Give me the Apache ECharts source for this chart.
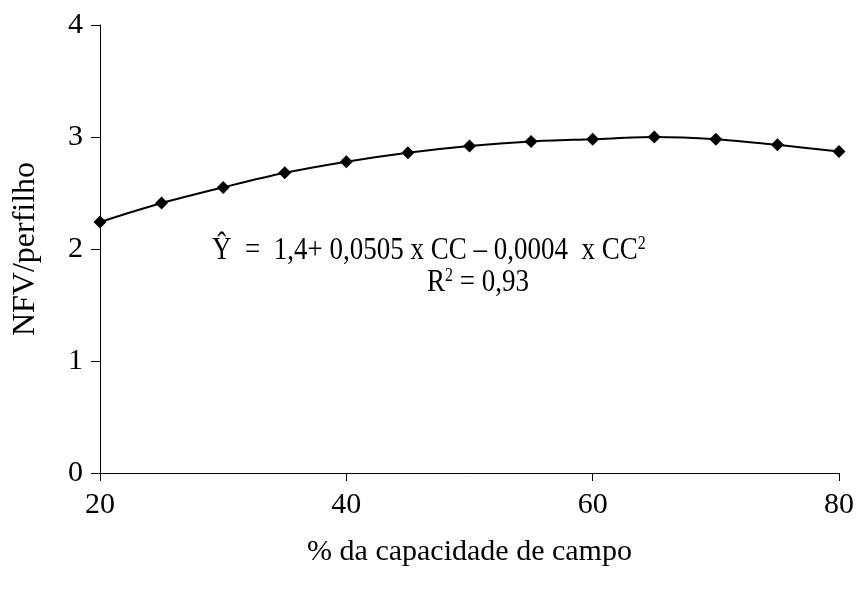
<!DOCTYPE html>
<html>
<head>
<meta charset="utf-8">
<script src="https://cdn.jsdelivr.net/npm/echarts@6/dist/echarts.min.js"></script>
<style>html,body{margin:0;padding:0;background:#fff}#main{width:859px;height:596px}</style>
</head>
<body>
<div id="main"></div>
<script>
var capacidade = [20, 25, 30, 35, 40, 45, 50, 55, 60, 65, 70, 75, 80];
var nfv = [2.24, 2.41, 2.55, 2.68, 2.78, 2.86, 2.92, 2.96, 2.98, 3.00, 2.98, 2.93, 2.87];
var eqLine1 = '{y|Ŷ}  =  1,4+ 0,0505 x CC – 0,0004  x CC{sup|2}';
var eqLine2 = 'R{sup|2} = 0,93';

var serif = '"Liberation Serif", "DejaVu Serif", serif';
var chart = echarts.init(document.getElementById('main'));

var pts = [];
for (var i = 0; i < capacidade.length; i++) {
	pts.push([capacidade[i], nfv[i]]);
}

var supStyle = { fontFamily: serif, fontSize: 16, verticalAlign: 'top', padding: [0, 0, 10, 0] };

var option = {
	animation: false,
	grid: { left: 100, right: 20, top: 25, bottom: 123 },
	xAxis: {
		type: 'value',
		min: 20,
		max: 80,
		interval: 20,
		name: '% da capacidade de campo',
		nameLocation: 'middle',
		nameGap: 64,
		nameTextStyle: { fontFamily: serif, fontSize: 30, color: '#000' },
		axisLine: { lineStyle: { color: '#000', width: 1 } },
		axisTick: { show: true, length: 8, lineStyle: { color: '#000' } },
		axisLabel: { fontFamily: serif, fontSize: 30, color: '#000', margin: 17 },
		splitLine: { show: false }
	},
	yAxis: {
		type: 'value',
		min: 0,
		max: 4,
		interval: 1,
		name: 'NFV/perfilho',
		nameLocation: 'middle',
		nameGap: 58,
		nameTextStyle: { fontFamily: serif, fontSize: 32, color: '#000' },
		axisLine: { show: true, lineStyle: { color: '#000', width: 1 } },
		axisTick: { show: true, length: 9, lineStyle: { color: '#000' } },
		axisLabel: { fontFamily: serif, fontSize: 30, color: '#000', margin: 17 },
		splitLine: { show: false }
	},
	graphic: [
		{
			type: 'text',
			x: 212,
			y: 234,
			scaleY: 1.2,
			style: {
				text: eqLine1,
				fontFamily: serif,
				fontSize: 27,
				fill: '#000',
				verticalAlign: 'top',
				rich: {
					y: { fontFamily: serif, fontSize: 27 },
					sup: supStyle
				}
			}
		},
		{
			type: 'text',
			x: 427,
			y: 266,
			scaleY: 1.2,
			style: {
				text: eqLine2,
				fontFamily: serif,
				fontSize: 27,
				fill: '#000',
				verticalAlign: 'top',
				rich: {
					sup: supStyle
				}
			}
		}
	],
	series: [
		{
			type: 'line',
			data: pts,
			smooth: 0.3,
			symbol: 'diamond',
			symbolSize: 13,
			itemStyle: { color: '#000' },
			lineStyle: { color: '#000', width: 2 }
		}
	]
};
chart.setOption(option);
</script>
</body>
</html>
